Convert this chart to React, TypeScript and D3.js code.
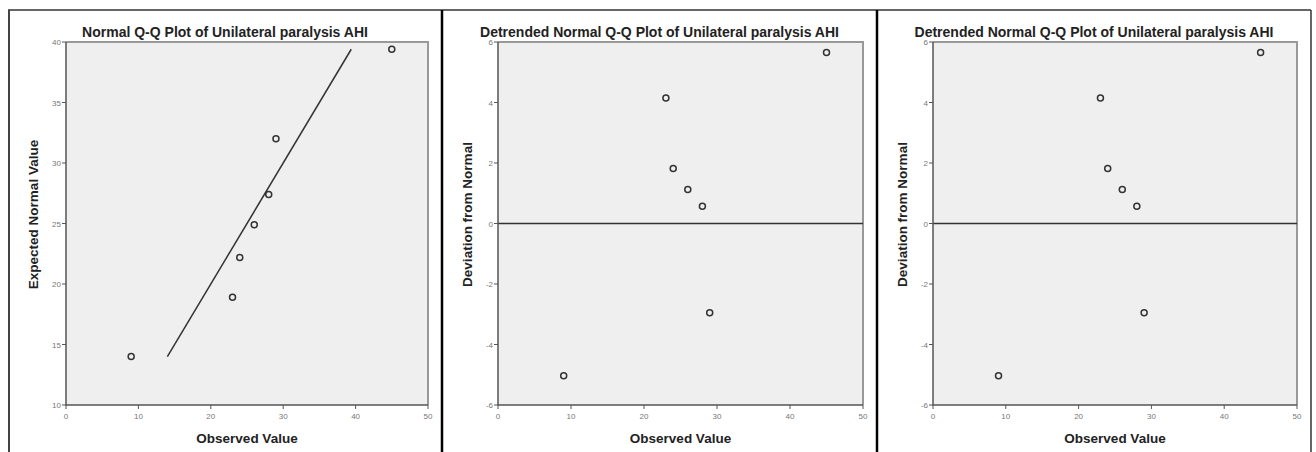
import React from "react";
import * as d3 from "d3";

const observed = [9, 23, 24, 26, 28, 29, 45];
const expected = [14.0, 18.9, 22.2, 24.9, 27.4, 32.0, 39.4];
const deviation = [-5.03, 4.15, 1.82, 1.12, 0.57, -2.95, 5.65];

const xTicks = [0, 10, 20, 30, 40, 50];
const yTicksNormal = [10, 15, 20, 25, 30, 35, 40];
const yTicksDetrended = [-6, -4, -2, 0, 2, 4, 6];

const titleNormal = "Normal Q-Q Plot of Unilateral paralysis AHI";
const titleDetrended = "Detrended Normal Q-Q Plot of Unilateral paralysis AHI";
const xLabel = "Observed Value";
const yLabelNormal = "Expected Normal Value";
const yLabelDetrended = "Deviation from Normal";

type PanelSpec = {
  box: [number, number];
  plot: [number, number];
  title: string;
  yLabel: string;
  yLabelX: number;
  yDomain: [number, number];
  yTicks: number[];
  values: number[];
  kind: "normal" | "detrended";
};

const panels: PanelSpec[] = [
  { box: [8, 442], plot: [66, 428], title: titleNormal, yLabel: yLabelNormal, yLabelX: 34, yDomain: [10, 40], yTicks: yTicksNormal, values: expected, kind: "normal" },
  { box: [442, 877], plot: [498, 863], title: titleDetrended, yLabel: yLabelDetrended, yLabelX: 468, yDomain: [-6, 6], yTicks: yTicksDetrended, values: deviation, kind: "detrended" },
  { box: [877, 1311], plot: [933, 1297], title: titleDetrended, yLabel: yLabelDetrended, yLabelX: 903, yDomain: [-6, 6], yTicks: yTicksDetrended, values: deviation, kind: "detrended" },
];

const TOP = 42;
const BOTTOM = 405;
const FONT = "'Liberation Sans', Arial, sans-serif";

function Panel({ p }: { p: PanelSpec }) {
  const x = d3.scaleLinear().domain([0, 50]).range(p.plot);
  const y = d3.scaleLinear().domain(p.yDomain).range([BOTTOM, TOP]);
  const [l, r] = p.plot;
  const boxCenter = (p.box[0] + p.box[1]) / 2;
  const plotCenter = (l + r) / 2;
  let refLine: React.ReactNode = null;
  if (p.kind === "normal") {
    const lo = d3.min(expected) as number;
    const hi = d3.max(expected) as number;
    const line = d3.line<number>().x((d) => x(d)).y((d) => y(d));
    refLine = <path d={line([lo, hi]) || ""} stroke="#333" strokeWidth={1.5} fill="none" />;
  } else {
    refLine = <line x1={x(0)} x2={x(50)} y1={y(0)} y2={y(0)} stroke="#333" strokeWidth={1.5} />;
  }
  return (
    <g>
      <rect x={l} y={TOP} width={r - l} height={BOTTOM - TOP} fill="#efefef" stroke="none" />
      <path d={`M${l},${TOP}H${r}V${BOTTOM}`} stroke="#999" strokeWidth={2} fill="none" />
      {refLine}
      {observed.map((o, i) => (
        <circle key={i} cx={x(o)} cy={y(p.values[i])} r={3} fill="none" stroke="#333" strokeWidth={1.5} />
      ))}
      <path d={`M${l},${TOP}V${BOTTOM}H${r}`} stroke="#555" strokeWidth={1.5} fill="none" />
      {xTicks.map((t) => (
        <g key={t}>
          <line x1={x(t)} x2={x(t)} y1={BOTTOM} y2={BOTTOM + 4} stroke="#555" strokeWidth={1} />
          <text x={x(t)} y={BOTTOM + 14} textAnchor="middle" fontSize={8} fill="#777" fontFamily={FONT}>{t}</text>
        </g>
      ))}
      {p.yTicks.map((t) => (
        <g key={t}>
          <line x1={l - 4} x2={l} y1={y(t)} y2={y(t)} stroke="#555" strokeWidth={1} />
          <text x={l - 5} y={y(t) + 3} textAnchor="end" fontSize={8} fill="#777" fontFamily={FONT}>{t}</text>
        </g>
      ))}
      <text x={boxCenter} y={37} textAnchor="middle" fontSize={14} fontWeight="bold" fill="#222" fontFamily={FONT}>{p.title}</text>
      <text x={plotCenter} y={443} textAnchor="middle" fontSize={13.5} fontWeight="bold" fill="#222" fontFamily={FONT}>{xLabel}</text>
      <text transform={`translate(${p.yLabelX},${(TOP + BOTTOM) / 2 - 9}) rotate(-90)`} textAnchor="middle" dy={4} fontSize={13.5} fontWeight="bold" fill="#222" fontFamily={FONT}>{p.yLabel}</text>
    </g>
  );
}

export default function App() {
  return (
    <svg width={1316} height={452} style={{ position: "absolute", left: 0, top: 0, background: "#fff" }}>
      <rect x={0} y={0} width={1316} height={452} fill="#fff" />
      {panels.map((p, i) => (
        <Panel key={i} p={p} />
      ))}
      <line x1={8} x2={1311} y1={10} y2={10} stroke="#333" strokeWidth={1.5} />
      <line x1={9} x2={9} y1={10} y2={452} stroke="#444" strokeWidth={2} />
      <line x1={442} x2={442} y1={10} y2={452} stroke="#000" strokeWidth={2.5} />
      <line x1={877} x2={877} y1={10} y2={452} stroke="#000" strokeWidth={2.5} />
      <line x1={1311} x2={1311} y1={10} y2={452} stroke="#333" strokeWidth={1.5} />
    </svg>
  );
}
